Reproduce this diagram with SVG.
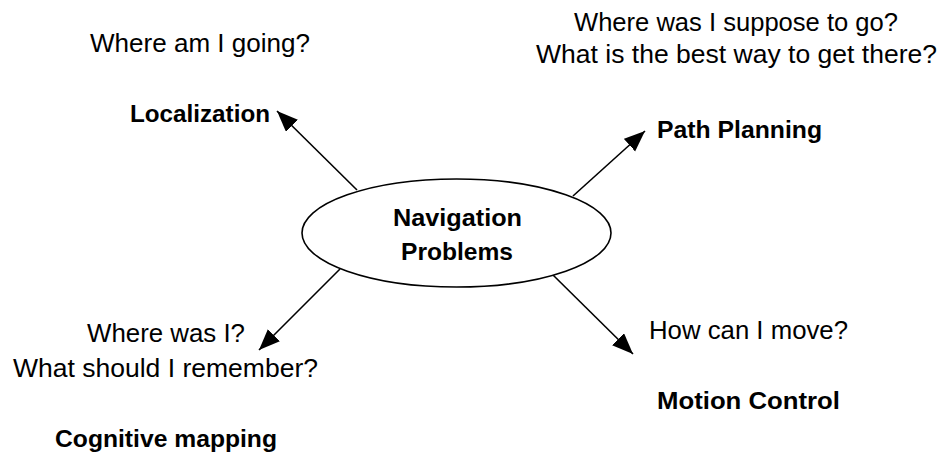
<svg xmlns="http://www.w3.org/2000/svg" width="946" height="452" viewBox="0 0 946 452">
<style>
text{font-family:"Liberation Sans",Arial,sans-serif;fill:#000}
.q{font-size:25px}
.b{font-size:24px;font-weight:bold}
.c{stroke:#000;stroke-width:1.6;fill:none}
</style>
<defs>
<marker id="ah" markerUnits="userSpaceOnUse" markerWidth="24" markerHeight="20" refX="21" refY="8.5" orient="auto">
<path d="M0,0 L21,8.5 L0,17 Z" fill="#000"/>
</marker>
</defs>
<rect width="946" height="452" fill="#fff"/>
<g id="connectors">
<line class="c" x1="357" y1="190" x2="277" y2="111" marker-end="url(#ah)"/>
<line class="c" x1="573" y1="196" x2="645" y2="131" marker-end="url(#ah)"/>
<line class="c" x1="340" y1="269" x2="259" y2="350" marker-end="url(#ah)"/>
<line class="c" x1="553" y1="275" x2="633" y2="354" marker-end="url(#ah)"/>
</g>
<g id="center">
<ellipse cx="456.5" cy="233" rx="154.5" ry="54" fill="#fff" stroke="#000" stroke-width="1.6"/>
<text class="b" x="393" y="226" textLength="129" lengthAdjust="spacingAndGlyphs">Navigation</text>
<text class="b" x="401" y="260" textLength="112" lengthAdjust="spacingAndGlyphs">Problems</text>
</g>
<g id="localization">
<text class="q" x="90" y="52" textLength="220" lengthAdjust="spacingAndGlyphs">Where am I going?</text>
<text class="b" x="130" y="122" textLength="140" lengthAdjust="spacingAndGlyphs">Localization</text>
</g>
<g id="path-planning">
<text class="q" x="574" y="31" textLength="324" lengthAdjust="spacingAndGlyphs">Where was I suppose to go?</text>
<text class="q" x="536" y="63" textLength="401" lengthAdjust="spacingAndGlyphs">What is the best way to get there?</text>
<text class="b" x="657" y="138" textLength="165" lengthAdjust="spacingAndGlyphs">Path Planning</text>
</g>
<g id="cognitive-mapping">
<text class="q" x="87" y="342" textLength="158" lengthAdjust="spacingAndGlyphs">Where was I?</text>
<text class="q" x="13" y="377" textLength="305" lengthAdjust="spacingAndGlyphs">What should I remember?</text>
<text class="b" x="55" y="447" textLength="222" lengthAdjust="spacingAndGlyphs">Cognitive mapping</text>
</g>
<g id="motion-control">
<text class="q" x="649" y="339" textLength="199" lengthAdjust="spacingAndGlyphs">How can I move?</text>
<text class="b" x="657" y="409" textLength="183" lengthAdjust="spacingAndGlyphs">Motion Control</text>
</g>
</svg>
